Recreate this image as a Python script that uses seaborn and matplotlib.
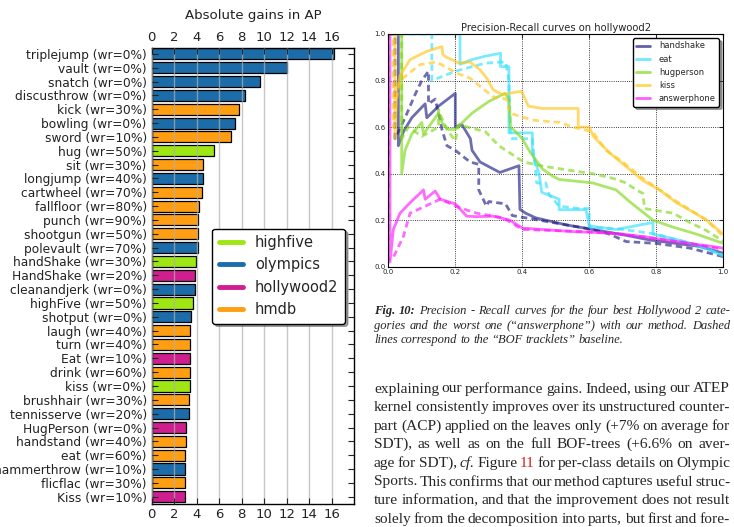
import matplotlib
matplotlib.use("Agg")
import pandas as pd
import seaborn as sns
import matplotlib.pyplot as plt
from matplotlib.lines import Line2D

# ---- bar chart data (absolute AP gains) ----
labels = ["triplejump (wr=0%)", "vault (wr=0%)", "snatch (wr=0%)", "discusthrow (wr=0%)",
          "kick (wr=30%)", "bowling (wr=0%)", "sword (wr=10%)", "hug (wr=50%)", "sit (wr=30%)",
          "longjump (wr=40%)", "cartwheel (wr=70%)", "fallfloor (wr=80%)", "punch (wr=90%)",
          "shootgun (wr=50%)", "polevault (wr=70%)", "handShake (wr=30%)", "HandShake (wr=20%)",
          "cleanandjerk (wr=0%)", "highFive (wr=50%)", "shotput (wr=0%)", "laugh (wr=40%)",
          "turn (wr=40%)", "Eat (wr=10%)", "drink (wr=60%)", "kiss (wr=0%)", "brushhair (wr=30%)",
          "tennisserve (wr=20%)", "HugPerson (wr=0%)", "handstand (wr=40%)", "eat (wr=60%)",
          "hammerthrow (wr=10%)", "flicflac (wr=30%)", "Kiss (wr=10%)"]
gains = [16.2, 12.0, 9.65, 8.3, 7.75, 7.4, 7.05, 5.5, 4.55, 4.55, 4.5, 4.18, 4.12, 4.12, 4.1,
         3.93, 3.83, 3.83, 3.7, 3.52, 3.45, 3.45, 3.45, 3.4, 3.4, 3.32, 3.32, 3.08, 3.08, 2.98,
         2.98, 2.93, 2.93]
datasets = ["olympics", "olympics", "olympics", "olympics", "hmdb", "olympics", "hmdb", "highfive",
            "hmdb", "olympics", "hmdb", "hmdb", "hmdb", "hmdb", "olympics", "highfive", "hollywood2",
            "olympics", "highfive", "olympics", "hmdb", "hmdb", "hollywood2", "hmdb", "highfive",
            "hmdb", "olympics", "hollywood2", "hmdb", "hmdb", "olympics", "hmdb", "hollywood2"]
legend_order = ["highfive", "olympics", "hollywood2", "hmdb"]
palette = {"highfive": "#9ee614", "olympics": "#1b6ca8", "hollywood2": "#cf1f8f", "hmdb": "#ff9e12"}

# ---- precision-recall curves (ours = solid, BOF tracklets = dashed) ----
pr_classes = ["handshake", "eat", "hugperson", "kiss", "answerphone"]
pr_colors = {"handshake": "#1f1f85", "eat": "#33e0ff", "hugperson": "#7fd91a",
             "kiss": "#ffc61a", "answerphone": "#ff1aff"}

handshake_r = [0.0, 0.03, 0.03, 0.045, 0.07, 0.11, 0.115, 0.15, 0.2, 0.2, 0.22, 0.245, 0.25, 0.274,
               0.30, 0.333, 0.39, 0.393, 0.41, 0.44, 0.47, 0.53, 0.61, 0.71, 0.78, 0.86, 0.93, 1.0]
handshake_p = [1.0, 1.0, 0.52, 0.58, 0.64, 0.70, 0.64, 0.69, 0.745, 0.60, 0.61, 0.55, 0.50, 0.45,
               0.43, 0.405, 0.434, 0.246, 0.23, 0.21, 0.20, 0.18, 0.16, 0.135, 0.115, 0.10, 0.087, 0.058]
handshake_bof_r = [0.0, 0.02, 0.02, 0.05, 0.08, 0.10, 0.12, 0.12, 0.14, 0.155, 0.16, 0.175, 0.2, 0.244,
                   0.27, 0.27, 0.293, 0.30, 0.35, 0.37, 0.47, 0.53, 0.61, 0.66, 0.71, 0.80, 0.90, 1.0]
handshake_bof_p = [1.0, 1.0, 0.55, 0.64, 0.74, 0.80, 0.84, 0.70, 0.72, 0.63, 0.59, 0.52, 0.50, 0.45,
                   0.44, 0.33, 0.26, 0.28, 0.27, 0.22, 0.195, 0.18, 0.16, 0.14, 0.108, 0.10, 0.08, 0.043]

eat_r = [0.0, 0.214, 0.214, 0.25, 0.29, 0.335, 0.335, 0.36, 0.36, 0.43, 0.43, 0.45, 0.458, 0.51,
         0.51, 0.59, 0.60, 0.68, 0.79, 0.79, 0.88, 0.95, 1.0]
eat_p = [1.0, 1.0, 0.87, 0.89, 0.905, 0.917, 0.86, 0.86, 0.575, 0.575, 0.49, 0.40, 0.32, 0.29,
         0.245, 0.245, 0.175, 0.16, 0.19, 0.14, 0.11, 0.08, 0.045]
eat_bof_r = [0.0, 0.13, 0.13, 0.2, 0.29, 0.35, 0.36, 0.365, 0.37, 0.43, 0.443, 0.47, 0.48, 0.51,
             0.57, 0.60, 0.60, 0.70, 0.80, 0.90, 1.0]
eat_bof_p = [1.0, 1.0, 0.80, 0.84, 0.875, 0.88, 0.80, 0.575, 0.55, 0.55, 0.36, 0.36, 0.31, 0.26,
             0.25, 0.25, 0.17, 0.16, 0.14, 0.10, 0.05]

hugperson_r = [0.0, 0.04, 0.04, 0.05, 0.07, 0.10, 0.105, 0.13, 0.15, 0.16, 0.18, 0.20, 0.25, 0.30,
               0.348, 0.36, 0.365, 0.38, 0.40, 0.42, 0.44, 0.46, 0.49, 0.51, 0.61, 0.68, 0.72,
               0.79, 0.85, 0.92, 1.0]
hugperson_p = [1.0, 1.0, 0.40, 0.50, 0.57, 0.62, 0.57, 0.62, 0.66, 0.62, 0.59, 0.59, 0.66, 0.71,
               0.745, 0.72, 0.60, 0.58, 0.55, 0.50, 0.46, 0.42, 0.39, 0.375, 0.36, 0.33, 0.28,
               0.20, 0.17, 0.14, 0.10]
hugperson_bof_r = [0.0, 0.04, 0.04, 0.06, 0.10, 0.15, 0.15, 0.17, 0.20, 0.21, 0.29, 0.33, 0.393,
                   0.41, 0.47, 0.49, 0.56, 0.61, 0.67, 0.71, 0.74, 0.76, 0.765, 0.85, 0.90, 0.95, 1.0]
hugperson_bof_p = [1.0, 1.0, 0.55, 0.60, 0.56, 0.60, 0.675, 0.60, 0.54, 0.61, 0.58, 0.52, 0.46,
                   0.448, 0.43, 0.426, 0.41, 0.40, 0.38, 0.36, 0.33, 0.315, 0.25, 0.23, 0.19, 0.155, 0.11]

kiss_r = [0.0, 0.02, 0.02, 0.025, 0.035, 0.065, 0.114, 0.16, 0.163, 0.174, 0.204, 0.21, 0.244,
          0.274, 0.294, 0.313, 0.34, 0.398, 0.418, 0.46, 0.567, 0.567, 0.60, 0.612, 0.66, 0.71,
          0.76, 0.81, 0.86, 0.91, 0.95, 1.0]
kiss_p = [1.0, 1.0, 0.55, 0.75, 0.82, 0.89, 0.925, 0.946, 0.91, 0.90, 0.88, 0.875, 0.88, 0.846,
          0.81, 0.76, 0.74, 0.754, 0.69, 0.68, 0.68, 0.60, 0.60, 0.56, 0.49, 0.43, 0.37, 0.33,
          0.275, 0.235, 0.20, 0.14]
kiss_bof_r = [0.0, 0.015, 0.015, 0.025, 0.035, 0.094, 0.144, 0.204, 0.244, 0.274, 0.313, 0.353,
              0.363, 0.43, 0.512, 0.55, 0.61, 0.65, 0.70, 0.75, 0.80, 0.85, 0.90, 0.95, 1.0]
kiss_bof_p = [1.0, 1.0, 0.60, 0.72, 0.80, 0.868, 0.88, 0.832, 0.81, 0.775, 0.73, 0.72, 0.66, 0.63,
              0.62, 0.60, 0.58, 0.50, 0.45, 0.39, 0.34, 0.29, 0.245, 0.20, 0.13]

answerphone_r = [0.0, 0.005, 0.005, 0.015, 0.035, 0.065, 0.105, 0.11, 0.14, 0.155, 0.2, 0.234,
                 0.264, 0.313, 0.363, 0.40, 0.46, 0.56, 0.66, 0.76, 0.86, 1.0]
answerphone_p = [1.0, 1.0, 0.02, 0.16, 0.23, 0.275, 0.33, 0.29, 0.325, 0.29, 0.27, 0.217, 0.215,
                 0.217, 0.20, 0.166, 0.16, 0.15, 0.145, 0.13, 0.108, 0.08]
answerphone_bof_r = [0.0, 0.0, 0.015, 0.045, 0.065, 0.11, 0.155, 0.214, 0.264, 0.343, 0.40, 0.5,
                     0.6, 0.7, 0.8, 0.9, 1.0]
answerphone_bof_p = [1.0, 0.03, 0.04, 0.13, 0.23, 0.26, 0.29, 0.253, 0.23, 0.21, 0.16, 0.155,
                     0.15, 0.14, 0.12, 0.10, 0.075]

curves = {
    "handshake": ((handshake_r, handshake_p), (handshake_bof_r, handshake_bof_p)),
    "eat": ((eat_r, eat_p), (eat_bof_r, eat_bof_p)),
    "hugperson": ((hugperson_r, hugperson_p), (hugperson_bof_r, hugperson_bof_p)),
    "kiss": ((kiss_r, kiss_p), (kiss_bof_r, kiss_bof_p)),
    "answerphone": ((answerphone_r, answerphone_p), (answerphone_bof_r, answerphone_bof_p)),
}

# ---- page text ----
caption_lines = [
    [("Fig. 10:", dict(style="italic", weight="bold")),
     ("Precision - Recall curves for the four best Hollywood 2 cate-", dict(style="italic"))],
    [("gories and the worst one (\u201canswerphone\u201d) with our method. Dashed", dict(style="italic"))],
    [("lines correspond to the \u201cBOF tracklets\u201d baseline.", dict(style="italic"))],
]
body_lines = [
    [("explaining our performance gains. Indeed, using our ATEP", {})],
    [("kernel consistently improves over its unstructured counter-", {})],
    [("part (ACP) applied on the leaves only (+7% on average for", {})],
    [("SDT), as well as on the full BOF-trees (+6.6% on aver-", {})],
    [("age for SDT),", {}), ("cf.", dict(style="italic")), ("Figure", {}),
     ("11", dict(color="#d42020")), ("for per-class details on Olympic", {})],
    [("Sports. This confirms that our method captures useful struc-", {})],
    [("ture information, and that the improvement does not result", {})],
    [("solely from the decomposition into parts, but first and fore-", {})],
]

W, H = 734, 527
sns.set_style("white")
plt.rcParams["font.family"] = ["DejaVu Sans"]

fig = plt.figure(figsize=(W / 100, H / 100), dpi=100)

# ---- left: horizontal bar chart ----
df = pd.DataFrame({"label": labels, "gain": gains, "dataset": datasets})
ax1 = fig.add_axes([151.7 / W, 1 - 504.3 / H, 202.3 / W, 456.6 / H])
sns.barplot(data=df, x="gain", y="label", hue="dataset", palette=palette, dodge=False,
            orient="h", edgecolor="black", linewidth=0.9, width=0.8, saturation=1,
            legend=False, ax=ax1)
ax1.set_xlim(0, 18)
ax1.set_ylim(32.55, -0.45)
ax1.set_xticks(range(0, 17, 2))
ax1.set_xlabel("")
ax1.set_ylabel("")
ax1.xaxis.grid(True, color="#b0b0b0", lw=1, alpha=0.7)
ax1.set_axisbelow(False)
ax1.tick_params(axis="x", top=True, labeltop=True, bottom=True, labelbottom=True,
                direction="in", length=4, labelsize=9.5, pad=2.5, colors="#222222")
ax1.tick_params(axis="y", left=True, right=True, direction="in", length=4,
                labelsize=8.8, pad=3.5, colors="#222222")
for s in ax1.spines.values():
    s.set_color("black")
    s.set_linewidth(1)
fig.text(252.9 / W, 1 - 15 / H, "Absolute gains in AP", ha="center", va="center",
         fontsize=9.6, color="#222222")
handles = [Line2D([], [], color=palette[d], lw=3.5) for d in legend_order]
leg = ax1.legend(handles, legend_order, loc="center", bbox_to_anchor=(0.627, 0.50),
                 fontsize=10.5, handlelength=1.7, frameon=True, fancybox=True, shadow=True,
                 borderpad=0.45)
leg.get_frame().set_edgecolor("black")

# ---- right: precision-recall curves ----
ax2 = fig.add_axes([388.3 / W, 1 - 266.7 / H, 335 / W, 232.7 / H])
for name in pr_classes:
    (r1, p1), (r2, p2) = curves[name]
    sns.lineplot(x=r1, y=p1, sort=False, estimator=None, color=pr_colors[name], lw=2.0,
                 alpha=0.65, ax=ax2)
    sns.lineplot(x=r2, y=p2, sort=False, estimator=None, color=pr_colors[name], lw=2.0,
                 alpha=0.65, linestyle=(0, (2.3, 1.5)), ax=ax2)
ax2.set_xlim(0, 1)
ax2.set_ylim(0, 1)
ax2.set_xticks([0, 0.2, 0.4, 0.6, 0.8, 1.0])
ax2.set_yticks([0, 0.2, 0.4, 0.6, 0.8, 1.0])
ax2.grid(True, ls=":", color="black", lw=0.6)
ax2.tick_params(direction="in", labelsize=5, length=3, pad=2, top=True, right=True)
for s in ax2.spines.values():
    s.set_color("black")
    s.set_linewidth(0.8)
ax2.set_title("Precision-Recall curves on hollywood2", fontsize=7.2, pad=2.5)
pr_handles = [Line2D([], [], color=pr_colors[n], lw=2, alpha=0.7) for n in pr_classes]
leg2 = ax2.legend(pr_handles, pr_classes, loc="upper right", fontsize=6, handlelength=1.7,
                  handletextpad=1.0, borderaxespad=0.5, fancybox=True, shadow=True)
leg2.get_frame().set_edgecolor("black")

# ---- caption and body text, justified line by line ----
renderer = fig.canvas.get_renderer()
TEXT_L, TEXT_R = 374, 730


def put_line(parts, y_px, size, justify=True):
    words = []
    for txt, kw in parts:
        for w in txt.split():
            words.append((w, kw))
    arts = [fig.text(0, 1 - y_px / H, w, fontsize=size, family="Liberation Serif",
                     va="baseline", ha="left", **kw) for w, kw in words]
    widths = [a.get_window_extent(renderer).width for a in arts]
    if justify and len(arts) > 1:
        gap = (TEXT_R - TEXT_L - sum(widths)) / (len(arts) - 1)
    else:
        gap = size * 100 / 72 * 0.25
    x = TEXT_L
    for a, w in zip(arts, widths):
        a.set_x(x / W)
        x += w + gap


for i, parts in enumerate(caption_lines):
    put_line(parts, 314 + i * 14.7, 9.0, justify=(i < len(caption_lines) - 1))
for i, parts in enumerate(body_lines):
    put_line(parts, 392.5 + i * 18.6, 11.1)

fig.savefig("out.png", dpi=100)
